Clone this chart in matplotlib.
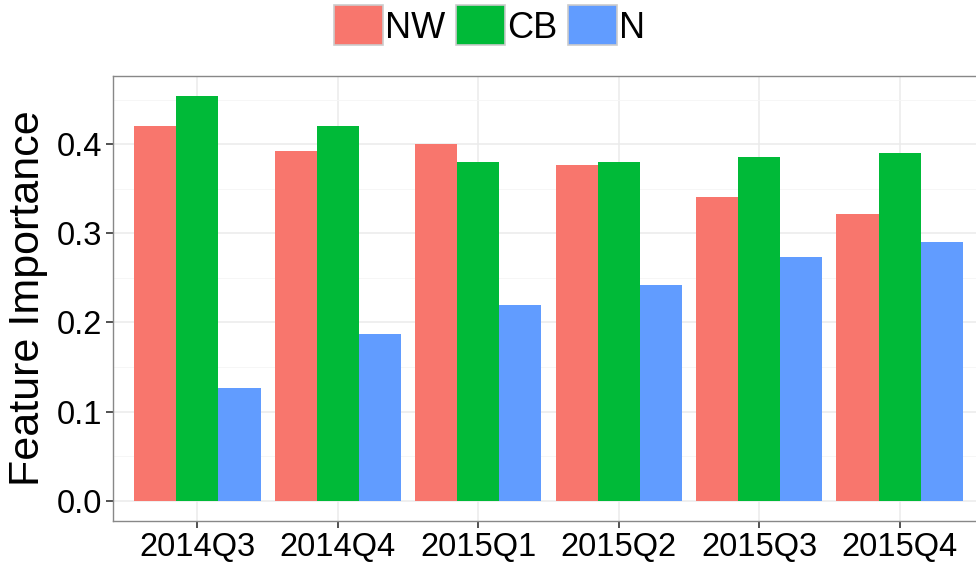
import matplotlib
matplotlib.use("Agg")
import matplotlib.pyplot as plt
import numpy as np
from matplotlib.ticker import MultipleLocator, FormatStrFormatter

plt.rcParams['font.family'] = ['Liberation Sans', 'DejaVu Sans']

quarters = ["2014Q3", "2014Q4", "2015Q1", "2015Q2", "2015Q3", "2015Q4"]
series_names = ["NW", "CB", "N"]
nw = [0.420, 0.392, 0.400, 0.377, 0.341, 0.322]
cb = [0.454, 0.420, 0.380, 0.380, 0.386, 0.390]
n_vals = [0.126, 0.187, 0.220, 0.242, 0.273, 0.290]
colors = ["#F8766D", "#00BA38", "#619CFF"]

fig = plt.figure(figsize=(9.76, 5.63), dpi=100)
ax = fig.add_axes([113/976, 1-521/563, (984-113)/976, (521-75.7)/563])

x = np.arange(len(quarters))
w = 0.3
for i, (vals, name, c) in enumerate(zip([nw, cb, n_vals], series_names, colors)):
    ax.bar(x + (i-1)*w, vals, width=w, color=c, label=name, zorder=3, linewidth=0)

ymax = max(max(nw), max(cb), max(n_vals))
ax.set_ylim(-0.05*ymax, 1.05*ymax)
ax.set_xlim(-0.6, len(quarters)-1+0.6)
ax.set_xticks(x)
ax.set_xticklabels(quarters)
ax.yaxis.set_major_locator(MultipleLocator(0.1))
ax.yaxis.set_minor_locator(MultipleLocator(0.05))
ax.yaxis.set_major_formatter(FormatStrFormatter('%.1f'))
ax.grid(which='major', color='#EBEBEB', linewidth=1.1, zorder=0)
ax.grid(which='minor', axis='y', color='#F5F5F5', linewidth=0.6, zorder=0)
ax.set_axisbelow(True)
for s in ax.spines.values():
    s.set_color('#888888')
    s.set_linewidth(1.0)
ax.tick_params(axis='both', which='major', labelsize=23.5, colors='#333333', labelcolor='black', length=5, width=1.2, pad=3)
ax.tick_params(axis='y', which='minor', length=0)
ax.set_ylabel("Feature Importance", fontsize=31, labelpad=6)

handles, labels = ax.get_legend_handles_labels()
leg = fig.legend(handles, labels, loc='upper center', bbox_to_anchor=(490/976, 1.0),
                 ncol=3, frameon=False, fontsize=26, handlelength=1.33, handleheight=1.33,
                 handletextpad=0.08, columnspacing=0.3, borderaxespad=0.0, borderpad=0.15)
for p in leg.get_patches():
    p.set_edgecolor('#CCCCCC')
    p.set_linewidth(1.2)

fig.savefig("out.png", dpi=100)
